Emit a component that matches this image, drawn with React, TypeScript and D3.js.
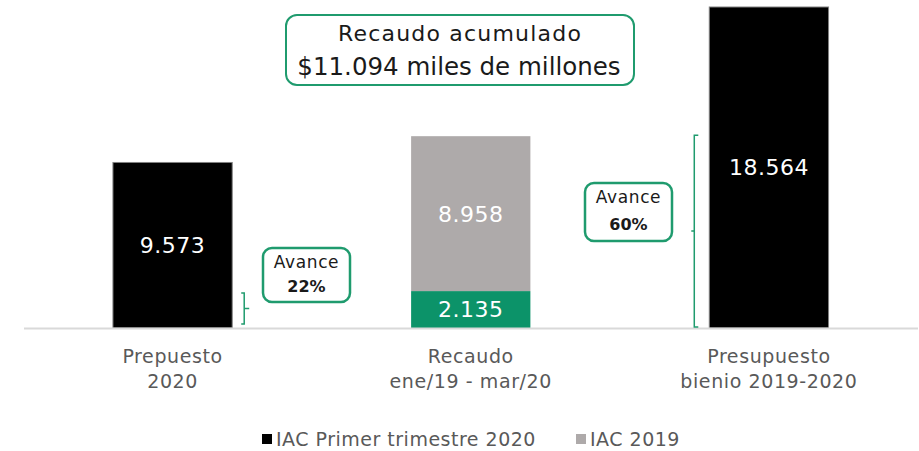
import * as d3 from 'd3';

const W = 919;
const H = 451;
const green = '#0c9369';
const boxGreen = '#1f9b6e';
const grey = '#aeaaaa';
const font = '"DejaVu Sans", sans-serif';

// data (miles de millones)
const categories = [['Prepuesto', '2020'], ['Recaudo', 'ene/19 - mar/20'], ['Presupuesto', 'bienio 2019-2020']];
const iacPrimerTrimestre = [9573, 2135, 18564];
const iac2019 = [0, 8958, 0];
const seriesNames = ['IAC Primer trimestre 2020', 'IAC 2019'];
const avance = [
  { cat: 0, pct: '22%', from: 0, to: 2135 },
  { cat: 2, pct: '60%', from: 0, to: 11094 },
];
const totalLabel = ['Recaudo acumulado', '$11.094 miles de millones'];

const locale = d3.formatLocale({ decimal: ',', thousands: '.', grouping: [3], currency: ['$', ''] });
const fmt = locale.format(',');

export default function App() {
  const x = d3.scaleBand<number>()
    .domain(d3.range(categories.length))
    .range([23.5, 918])
    .paddingInner(0.6)
    .paddingOuter(0.3);
  const y = d3.scaleLinear().domain([0, d3.max(iacPrimerTrimestre)!]).range([328, 7]);

  const rows = categories.map((_, i) => ({ i, a: iacPrimerTrimestre[i], b: iac2019[i] }));
  const stacked = d3.stack<any>().keys(['a', 'b'])(rows);

  const fillFor = (key: string, i: number) => {
    if (key === 'b') return grey;
    return iac2019[i] > 0 ? green : '#000';
  };

  // llaves de avance
  const b1 = avance[0];
  const bx1 = x(b1.cat)! + x.bandwidth() + 12;
  const by1a = y(b1.to) + 2, by1b = y(b1.from) - 4;
  const brace1 = `M${bx1 - 3},${by1a} H${bx1} V${(by1a + by1b) / 2} H${bx1 + 5} M${bx1},${(by1a + by1b) / 2} V${by1b} H${bx1 - 3}`;
  const b2 = avance[1];
  const bx2 = x(b2.cat)! - 15;
  const by2a = y(b2.to) - 1, by2b = y(b2.from) - 1;
  const brace2 = `M${bx2 + 4},${by2a} H${bx2} V${by2b} H${bx2 + 4} M${bx2},${(by2a + by2b) / 2} H${bx2 - 3}`;

  return (
    <svg width={W} height={H} style={{ position: 'absolute', left: 0, top: 0, fontFamily: font }}>
      <rect width={W} height={H} fill="#fff" />
      {stacked.map(s => s.map((d, i) => d[1] - d[0] > 0 && (
        <rect key={s.key + i} x={x(i)} y={y(d[1])} width={x.bandwidth()} height={y(d[0]) - y(d[1])}
          fill={fillFor(s.key, i)} stroke={fillFor(s.key, i) === '#000' ? '#808080' : 'none'} strokeWidth={1} />
      )))}
      {stacked.map(s => s.map((d, i) => d[1] - d[0] > 0 && (
        <text key={'l' + s.key + i} x={x(i)! + x.bandwidth() / 2} y={(y(d[0]) + y(d[1])) / 2}
          dy="0.36em" textAnchor="middle" fill="#fff" fontSize={22} letterSpacing={0.5}>{fmt(d[1] - d[0])}</text>
      )))}
      <line x1={24} x2={918} y1={328.5} y2={328.5} stroke="#d9d9d9" strokeWidth={2} />

      {categories.map((c, i) => (
        <text key={'c' + i} x={x(i)! + x.bandwidth() / 2} y={363} textAnchor="middle" fill="#595959" fontSize={19} letterSpacing={0.6}>
          {c.map((t, j) => <tspan key={j} x={x(i)! + x.bandwidth() / 2} dy={j === 0 ? 0 : 25}>{t}</tspan>)}
        </text>
      ))}

      {/* recuadro del total */}
      <rect x={286} y={15} width={348} height={70} rx={11} fill="#fff" stroke={boxGreen} strokeWidth={2} />
      <text x={460} y={41} textAnchor="middle" fontSize={22} letterSpacing={1.2} fill="#1a1a1a">{totalLabel[0]}</text>
      <text x={459} y={75} textAnchor="middle" fontSize={24.5} fill="#1a1a1a">{totalLabel[1]}</text>

      {/* avance */}
      <path d={brace1} fill="none" stroke={boxGreen} strokeWidth={1.5} />
      <path d={brace2} fill="none" stroke={boxGreen} strokeWidth={1.5} />
      {[{ a: b1, bx: 263, by: 248 }, { a: b2, bx: 585, by: 183 }].map(({ a, bx, by }, k) => (
        <g key={'a' + k}>
          <rect x={bx} y={by} width={87} height={k === 0 ? 54 : 58} rx={9} fill="#fff" stroke={boxGreen} strokeWidth={2.5} />
          <text x={bx + 43.5} y={by + 20} textAnchor="middle" fontSize={17} letterSpacing={0.6} fill="#1a1a1a">Avance</text>
          <text x={bx + 43.5} y={by + (k === 0 ? 44 : 47)} textAnchor="middle" fontSize={16} fontWeight="bold" fill="#1a1a1a">{a.pct}</text>
        </g>
      ))}

      {/* leyenda */}
      {seriesNames.map((n, i) => {
        const lx = i === 0 ? 262 : 576;
        return (
          <g key={'lg' + i}>
            <rect x={lx} y={434} width={10} height={10} fill={i === 0 ? '#000' : grey} />
            <text x={lx + 14} y={446} fontSize={19} letterSpacing={0.5} fill="#595959">{n}</text>
          </g>
        );
      })}
    </svg>
  );
}
